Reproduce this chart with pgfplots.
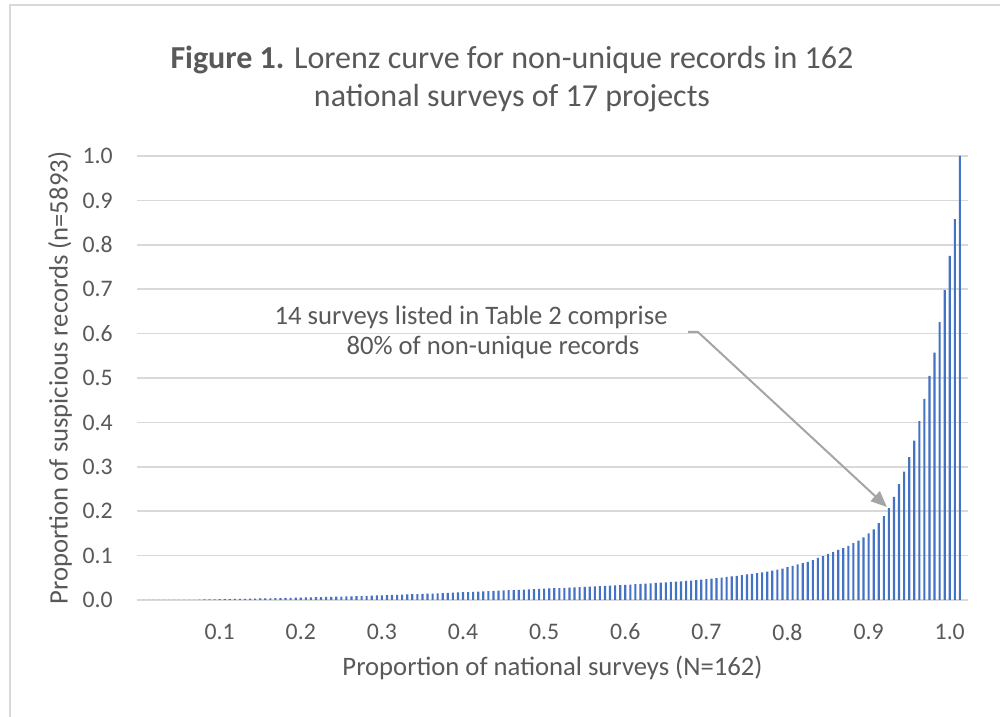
\documentclass[border=0pt]{standalone}
\usepackage{fontspec}
\setmainfont{Carlito}
\usepackage{pgfplots}
\pgfplotsset{compat=1.18}
\usepackage{pgfplotstable}
\usetikzlibrary{arrows.meta}
\definecolor{txt}{HTML}{595959}
\definecolor{barblue}{HTML}{4472C4}
\definecolor{gridgray}{HTML}{D9D9D9}
\definecolor{arrowgray}{HTML}{A5A5A5}

\pgfplotstableread{
i v
1 0
2 0
3 0
4 0
5 0
6 0
7 0
8 0
9 0
10 0
11 0
12 0.0010
13 0.0012
14 0.0014
15 0.0016
16 0.0018
17 0.0020
18 0.0022
19 0.0024
20 0.0026
21 0.0028
22 0.0030
23 0.0032
24 0.0034
25 0.0036
26 0.0038
27 0.0040
28 0.0042
29 0.0045
30 0.0048
31 0.0051
32 0.0054
33 0.0057
34 0.0060
35 0.0063
36 0.0066
37 0.0069
38 0.0072
39 0.0075
40 0.0078
41 0.0081
42 0.0084
43 0.0087
44 0.0090
45 0.0094
46 0.0098
47 0.0102
48 0.0106
49 0.0110
50 0.0114
51 0.0118
52 0.0122
53 0.0126
54 0.0130
55 0.0134
56 0.0138
57 0.0142
58 0.0146
59 0.0150
60 0.0155
61 0.0160
62 0.0165
63 0.0170
64 0.0175
65 0.0180
66 0.0185
67 0.0190
68 0.0195
69 0.0200
70 0.0205
71 0.0210
72 0.0215
73 0.0220
74 0.0225
75 0.0230
76 0.0235
77 0.0240
78 0.0245
79 0.0250
80 0.0255
81 0.0260
82 0.0265
83 0.0270
84 0.0275
85 0.0280
86 0.0285
87 0.0290
88 0.0295
89 0.0300
90 0.0306
91 0.0312
92 0.0318
93 0.0324
94 0.0330
95 0.0336
96 0.0342
97 0.0348
98 0.0355
99 0.0362
100 0.0369
101 0.0376
102 0.0383
103 0.0390
104 0.0398
105 0.0406
106 0.0414
107 0.0422
108 0.0430
109 0.0439
110 0.0448
111 0.0458
112 0.0468
113 0.0480
114 0.0492
115 0.0505
116 0.0518
117 0.0531
118 0.0545
119 0.0560
120 0.0575
121 0.0590
122 0.0606
123 0.0623
124 0.0640
125 0.0660
126 0.0682
127 0.0706
128 0.0738
129 0.0770
130 0.0800
131 0.0830
132 0.0860
133 0.0900
134 0.0950
135 0.0990
136 0.1040
137 0.1080
138 0.1130
139 0.1170
140 0.1220
141 0.1280
142 0.1340
143 0.1410
144 0.1500
145 0.1590
146 0.1730
147 0.1890
148 0.2070
149 0.2320
150 0.2610
151 0.2890
152 0.3220
153 0.3590
154 0.4030
155 0.4530
156 0.5050
157 0.5570
158 0.6260
159 0.6980
160 0.7750
161 0.8580
162 1.0000
}\lorenz

\begin{document}
\begin{tikzpicture}
\path[use as bounding box] (0,0) rectangle (750pt,537.75pt);
\fill[white] (0,0) rectangle (750pt,537.75pt);
\draw[gridgray, line width=1.5pt] (7.5pt,0) -- (7.5pt,534pt) -- (750pt,534pt);
\node[text=txt, font=\fontsize{24}{29}\selectfont] at (384pt,493pt)
  {\textbf{Figure 1.} Lorenz curve for non-unique records in 162};
\node[text=txt, font=\fontsize{24}{29}\selectfont] at (384pt,464pt)
  {national surveys of 17 projects};
\begin{axis}[
  at={(102.75pt,87.75pt)}, anchor=south west,
  scale only axis, width=623.25pt, height=333pt,
  xmin=-0.3, xmax=163.6, ymin=0, ymax=1,
  ybar, bar width=1.6pt,
  axis line style={draw=none},
  ymajorgrids, grid style={gridgray, line width=1.2pt},
  major tick length=0pt,
  xtick={16,32,48,64,80,96,112,128,144,160},
  xticklabels={0.1,0.2,0.3,0.4,0.5,0.6,0.7,0.8,0.9,1.0},
  ytick={0,0.1,0.2,0.3,0.4,0.5,0.6,0.7,0.8,0.9,1},
  yticklabels={0.0,0.1,0.2,0.3,0.4,0.5,0.6,0.7,0.8,0.9,1.0},
  /pgf/number format/assume math mode=true,
  tick label style={font=\fontsize{17.8}{21}\selectfont, text=txt, inner sep=0pt},
  xticklabel style={anchor=center, yshift=-24pt},
  yticklabel style={anchor=east, xshift=-18pt},
  xlabel={Proportion of national surveys (N=162)},
  ylabel={Proportion of suspicious records (n=5893)},
  label style={font=\fontsize{20}{24}\selectfont, text=txt},
  xlabel style={at={(axis description cs:0.5,-0.1532)}, anchor=center},
  ylabel style={at={(axis description cs:-0.0927,0.5)}, anchor=center},
  clip=false,
]
\addplot[fill=barblue, draw=none] table[x=i, y=v] {\lorenz};
\node[text=txt, font=\fontsize{20}{24}\selectfont] at (axis cs:65.6,0.637)
  {14 surveys listed in Table 2 comprise};
\node[text=txt, font=\fontsize{20}{24}\selectfont] at (axis cs:69.9,0.570)
  {80\% of non-unique records};
\draw[arrowgray, line width=1.5pt, -{Triangle[length=12pt,width=10pt]}]
  (axis cs:108.4,0.604) -- (axis cs:110.3,0.604) -- (axis cs:147.6,0.2095);
\end{axis}
\end{tikzpicture}
\end{document}
